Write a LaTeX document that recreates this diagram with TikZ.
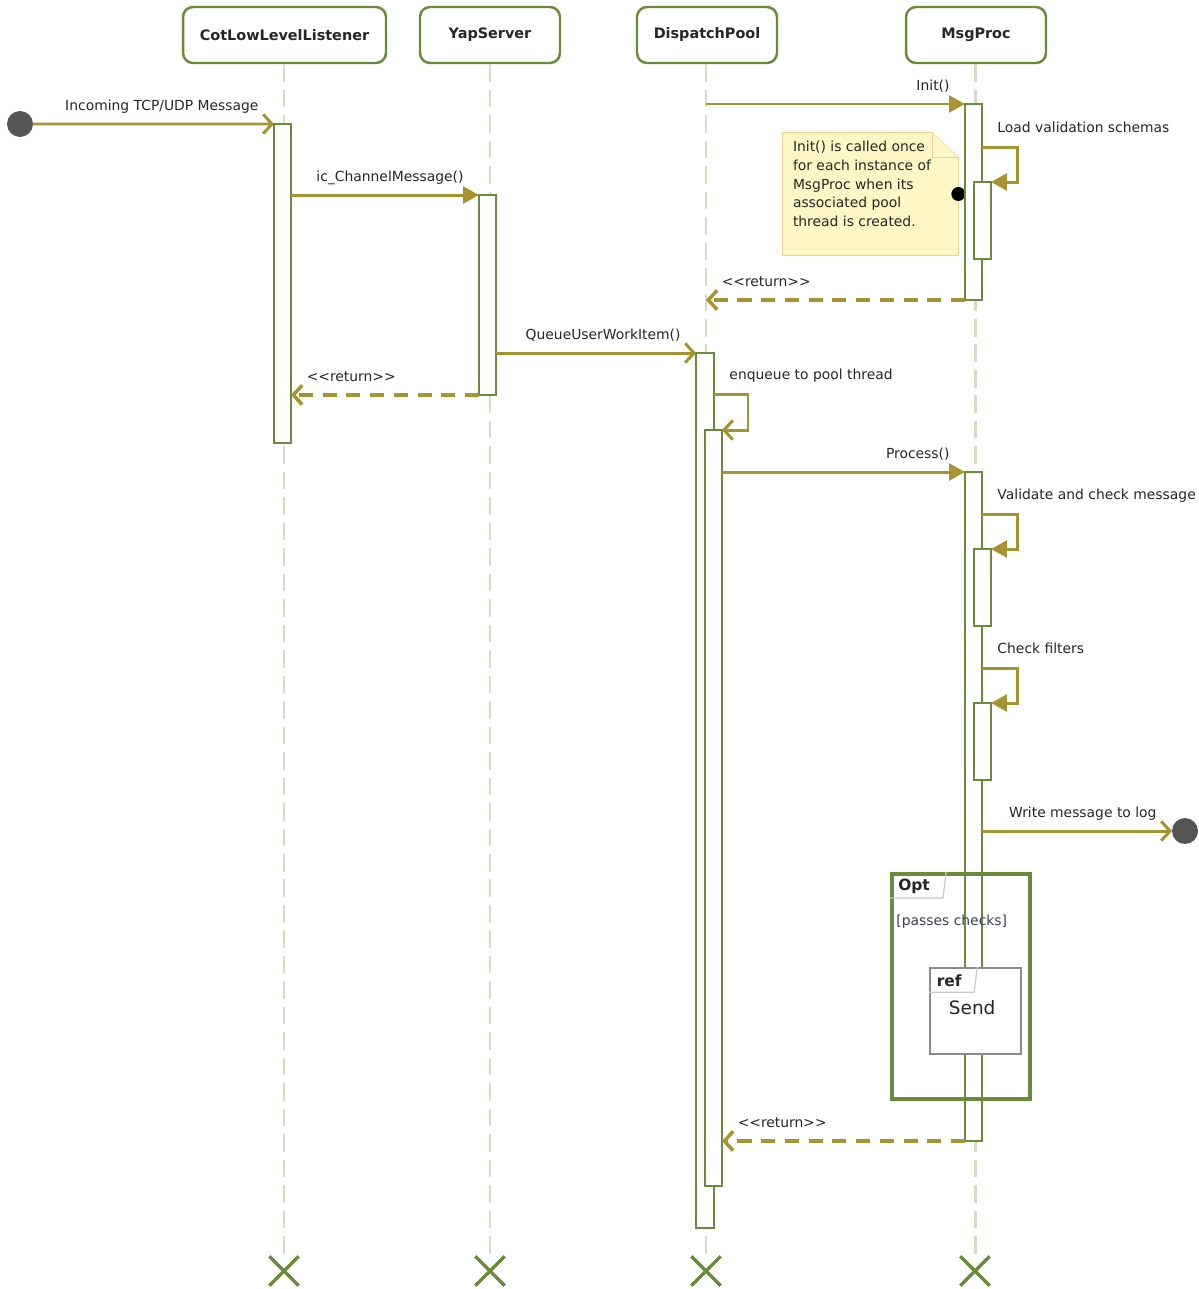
\documentclass[tikz,border=0pt]{standalone}
\usepackage{fontspec}
\setmainfont{DejaVu Sans}
\usepackage{tikz}
\usetikzlibrary{arrows.meta,fit,shapes.misc}
\definecolor{umlgreen}{RGB}{106,140,58}
\definecolor{umlgold}{RGB}{168,147,50}
\definecolor{umlline}{RGB}{214,219,196}
\definecolor{umlgrey}{RGB}{85,85,85}
\definecolor{notefill}{RGB}{252,247,196}
\definecolor{noteedge}{RGB}{230,216,140}
\definecolor{tabedge}{RGB}{200,200,200}
\definecolor{refedge}{RGB}{138,138,138}
\definecolor{guardtext}{RGB}{60,66,84}

\begin{document}
\begin{tikzpicture}[x=0.02cm,y=-0.02cm]
	\tikzstyle{every node}+=[font=\fontsize{7.9}{10.7}\selectfont, text=black!85]
	\tikzstyle{head}=[draw=umlgreen, line width=1.4pt, rounded corners=0.2cm, fill=white, minimum width=2.8cm, minimum height=1.12cm, font=\fontsize{8.2}{10.7}\selectfont\bfseries]
	\tikzstyle{life}=[umlline, line width=1.7pt, dash pattern=on 10pt off 4.5pt]
	\tikzstyle{ends}=[cross out, draw=umlgreen, line width=1.9pt, minimum size=0.52cm, inner sep=0pt]
	\tikzstyle{act}=[draw=umlgreen, line width=1.1pt, fill=white, inner sep=0pt, outer sep=0pt]
	\tikzstyle{msg}=[umlgold, line width=1.7pt]
	\tikzstyle{call}=[msg, -{Triangle[length=9pt, width=9.5pt]}]
	\tikzstyle{async}=[msg, -{Straight Barb[length=5pt, width=11pt]}]
	\tikzstyle{reply}=[msg, line width=2pt, dash pattern=on 8pt off 5.5pt, -{Straight Barb[length=5pt, width=11pt]}]
	\tikzstyle{lblend}=[anchor=base east, xshift=-0.28cm, yshift=0.28cm, inner sep=0pt]
	\tikzstyle{lblret}=[anchor=base west, xshift=0.28cm, yshift=0.28cm, inner sep=0pt]
	\tikzstyle{lblself}=[anchor=base west, xshift=0.28cm, yshift=0.3cm, inner sep=0pt]
	\tikzstyle{notebox}=[draw=noteedge, fill=notefill, line width=0.6pt]
	\tikzstyle{optbox}=[draw=umlgreen, line width=2.2pt, inner sep=0pt]
	\tikzstyle{refbox}=[draw=refedge, fill=white, line width=0.9pt, inner sep=0pt]
	\tikzstyle{tabline}=[tabedge, line width=0.7pt]
	\tikzstyle{endpoint}=[circle, fill=umlgrey, minimum size=0.52cm, inner sep=0pt, outer sep=0pt]
	\useasboundingbox (0,0) rectangle (1199,1289);
	\node[head, minimum width=4.06cm] (cll) at (284.5,35) {CotLowLevelListener};
	\node[head] (yap) at (490,35) {YapServer};
	\node[head] (pool) at (707,35) {DispatchPool};
	\node[head] (proc) at (976,35) {MsgProc};
	\node[ends] (cllend) at (284,1271) {};
	\node[ends] (yapend) at (490,1271) {};
	\node[ends] (poolend) at (706,1271) {};
	\node[ends] (procend) at (975,1271) {};
	\draw[life] (cllend |- cll.south) -- (cllend);
	\draw[life] (yapend |- yap.south) -- (yapend);
	\draw[life] (poolend |- pool.south) -- (poolend);
	\draw[life] (procend |- proc.south) -- (procend);
	\node[fit={(783,133) (958,255)}, inner sep=0pt] (note) {};
	\filldraw[notebox] (note.north west) -- ([xshift=-0.52cm]note.north east) -- ([yshift=-0.5cm]note.north east) -- (note.south east) -- (note.south west) -- cycle;
	\draw[notebox] ([xshift=-0.52cm]note.north east) |- ([yshift=-0.5cm]note.north east);
	\node[anchor=north west, align=left, inner sep=0pt] (notetext) at ([shift={(10,8)}]note.north west) {Init() is called once\\for each instance of\\MsgProc when its\\associated pool\\thread is created.};
	\fill (note.east) circle (0.14cm);
	\node[act, fit={(274,124) (291,443)}] (cllact) {};
	\node[act, fit={(479,195) (496,395)}] (yapact) {};
	\node[act, fit={(696,353) (714,1228)}] (poolact) {};
	\node[act, fit={(705,430) (722,1186)}] (poolsub) {};
	\node[act, fit={(965,104) (982,300)}] (initact) {};
	\node[act, fit={(974,182) (991,259)}] (loadact) {};
	\node[act, fit={(965,472) (982,1141)}] (procact) {};
	\node[act, fit={(974,549) (991,626)}] (chkact) {};
	\node[act, fit={(974,703) (991,780)}] (filtact) {};
	\node[endpoint] (src) at (20,124) {};
	\node[endpoint] (sink) at (1185,831) {};
	\draw[async] (src) -- (cllact.north west) node[lblend] {Incoming TCP/UDP Message};
	\draw[call] (cllact.east |- yapact.north) -- (yapact.north west) node[lblend] {ic\_ChannelMessage()};
	\draw[call] (poolend |- initact.north) -- (initact.north west) node[lblend] {Init()};
	\draw[call] ([yshift=0.7cm]loadact.north -| initact.east) node[lblself] {Load validation schemas} -- ++(35,0) |- (loadact.north east);
	\draw[reply] (initact.south west) -- (poolend |- initact.south) node[lblret] {<{}<return>{}>};
	\draw[async] (yapact.east |- poolact.north) -- (poolact.north west) node[lblend] {QueueUserWorkItem()};
	\draw[reply] (yapact.south west) -- (cllact.east |- yapact.south) node[lblret] {<{}<return>{}>};
	\draw[async] ([yshift=0.72cm]poolsub.north -| poolact.east) node[lblself] {enqueue to pool thread} -- ++(34,0) |- (poolsub.north east);
	\draw[call] (poolsub.east |- procact.north) -- (procact.north west) node[lblend] {Process()};
	\draw[call] ([yshift=0.7cm]chkact.north -| procact.east) node[lblself] {Validate and check message} -- ++(35,0) |- (chkact.north east);
	\draw[call] ([yshift=0.7cm]filtact.north -| procact.east) node[lblself] {Check filters} -- ++(35,0) |- (filtact.north east);
	\draw[async] (procact.east |- sink) -- (sink.west) node[lblend] {Write message to log};
	\node[optbox, fit={(892,874) (1030,1099)}] (opt) {};
	\draw[tabline] ([xshift=1.12cm]opt.north west) -- ++(-3,26) -- ++(-53,0);
	\node[font=\fontsize{8.8}{10.7}\selectfont\bfseries] at ([shift={(24,14)}]opt.north west) {Opt};
	\node[anchor=west, inner sep=0pt, text=guardtext] at ([shift={(6,50)}]opt.north west) {[passes checks]};
	\node[refbox, fit={(930,968) (1021,1054)}] (sendref) {};
	\draw[tabline] ([xshift=0.96cm]sendref.north west) -- ++(-3,25) -- ++(-45,0);
	\node[font=\fontsize{8.8}{10.7}\selectfont\bfseries] at ([shift={(20,14)}]sendref.north west) {ref};
	\node[font=\fontsize{10.5}{12.5}\selectfont] at ([shift={(43,40)}]sendref.north west) {Send};
	\draw[reply] (procact.south west) -- (poolsub.east |- procact.south) node[lblret] {<{}<return>{}>};
\end{tikzpicture}
\end{document}
